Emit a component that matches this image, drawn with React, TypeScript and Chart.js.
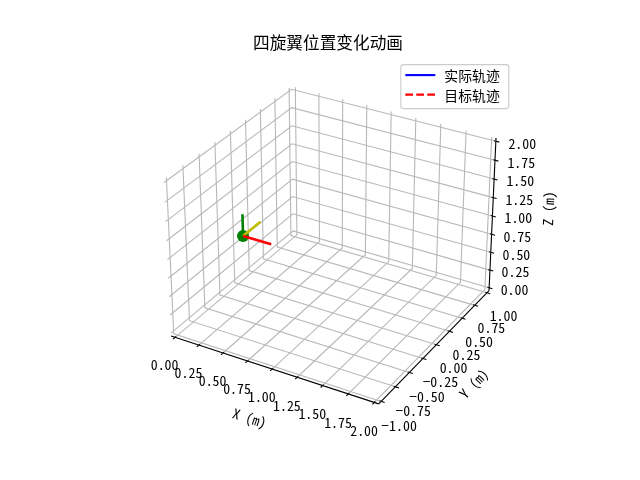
import React, { useEffect, useRef } from "react";
import { Chart, registerables } from "chart.js";

Chart.register(...registerables);

// ---------------- data ----------------
const TITLE = "四旋翼位置变化动画";
const X_LIMITS = [0, 2];
const Y_LIMITS = [-1, 1];
const Z_LIMITS = [0, 2];
const X_TICKS = [0, 0.25, 0.5, 0.75, 1, 1.25, 1.5, 1.75, 2];
const Y_TICKS = [-1, -0.75, -0.5, -0.25, 0, 0.25, 0.5, 0.75, 1];
const Z_TICKS = [0, 0.25, 0.5, 0.75, 1, 1.25, 1.5, 1.75, 2];
const X_TICK_LABELS = ["0.00", "0.25", "0.50", "0.75", "1.00", "1.25", "1.50", "1.75", "2.00"];
const Y_TICK_LABELS = ["\u22121.00", "\u22120.75", "\u22120.50", "\u22120.25", "0.00", "0.25", "0.50", "0.75", "1.00"];
const Z_TICK_LABELS = ["0.00", "0.25", "0.50", "0.75", "1.00", "1.25", "1.50", "1.75", "2.00"];
const AXIS_TITLES = ["X (m)", "Y (m)", "Z (m)"];
const SERIES_NAMES = ["实际轨迹", "目标轨迹"];
// trajectories (animation first frame: nothing drawn yet)
const ACTUAL_X: number[] = [];
const ACTUAL_Y: number[] = [];
const ACTUAL_Z: number[] = [];
const TARGET_X: number[] = [];
const TARGET_Y: number[] = [];
const TARGET_Z: number[] = [];
// quadrotor body
const DRONE_POSITION = [0.02, 0.065, 0.6];
const ARM_LENGTH = 0.3;
const VIEW_ELEV = 30;
const VIEW_AZIM = -60;

// ---------------- 3D projection (matplotlib mplot3d style) ----------------
const DPI = 100;
const FS = (10 * DPI) / 72;
const CAM_DIST = 10;
const LIMS = [X_LIMITS, Y_LIMITS, Z_LIMITS];
const TICKS = [X_TICKS, Y_TICKS, Z_TICKS];
const TICK_LABELS = [X_TICK_LABELS, Y_TICK_LABELS, Z_TICK_LABELS];
const BOX_RATIO = [4, 4, 3];
const boxNorm = Math.hypot(BOX_RATIO[0], BOX_RATIO[1], BOX_RATIO[2]);
const BOX = BOX_RATIO.map((v) => (v * 1.8294640721620434) / boxNorm);
const RC = BOX.map((v) => v / 2);
const elR = (VIEW_ELEV * Math.PI) / 180;
const azR = (VIEW_AZIM * Math.PI) / 180;
const W = [Math.cos(elR) * Math.cos(azR), Math.cos(elR) * Math.sin(azR), Math.sin(elR)];
const cross = (a: number[], b: number[]) => [
  a[1] * b[2] - a[2] * b[1],
  a[2] * b[0] - a[0] * b[2],
  a[0] * b[1] - a[1] * b[0],
];
const dot = (a: number[], b: number[]) => a[0] * b[0] + a[1] * b[1] + a[2] * b[2];
const U0 = cross([0, 0, 1], W);
const un = Math.hypot(U0[0], U0[1], U0[2]);
const U = U0.map((v) => v / un);
const V = cross(W, U);

function project(p: number[]) {
  const d = [0, 1, 2].map(
    (i) => ((p[i] - LIMS[i][0]) / (LIMS[i][1] - LIMS[i][0])) * BOX[i] - RC[i]
  );
  const den = CAM_DIST - dot(W, d);
  return { x: dot(U, d) / den, y: dot(V, d) / den };
}

const DELTAS = LIMS.map((l) => (l[1] - l[0]) / 12);
const MINS = LIMS.map((l, i) => l[0] - DELTAS[i] / 4);
const MAXS = LIMS.map((l, i) => l[1] + DELTAS[i] / 4);
const CENTERS = MINS.map((m, i) => (m + MAXS[i]) / 2);
const HIGHS = [0, 1, 2].map((i) => W[i] < 0);
const MINMAX = [0, 1, 2].map((i) => (HIGHS[i] ? MAXS[i] : MINS[i]));
const MAXMIN = [0, 1, 2].map((i) => (HIGHS[i] ? MINS[i] : MAXS[i]));
const JUGGLED = [
  [1, 0, 2],
  [0, 1, 2],
  [0, 2, 1],
];
const TICKDIR = [1, 0, 0];
const GRID_COLOR = "#b8b8b8";
const LW = (0.8 * DPI) / 72;
const MONO_FONT = `"Noto Sans Mono CJK SC", "Noto Sans CJK SC", sans-serif`;
const CJK_FONT = `"Noto Sans CJK SC", sans-serif`;

function moveFromCenter(c: number[], deltas: number[], skip: number) {
  return c.map((v, k) => (k === skip ? v : v + (v - CENTERS[k] >= 0 ? 1 : -1) * deltas[k]));
}

// figure / axes geometry (default subplot params, square 3D axes)
const FIG_W = 640;
const FIG_H = 480;
const axW = (0.9 - 0.125) * FIG_W;
const axH = (0.88 - 0.11) * FIG_H;
const side = Math.min(axW, axH);
const axCx = ((0.125 + 0.9) / 2) * FIG_W;
const axCy = FIG_H - ((0.11 + 0.88) / 2) * FIG_H;
const PAD = {
  left: axCx - side / 2,
  right: FIG_W - (axCx + side / 2),
  top: axCy - side / 2,
  bottom: FIG_H - (axCy + side / 2),
};

const zip3 = (a: number[], b: number[], c: number[]) => a.map((v, i) => project([v, b[i], c[i]]));
const armEnd = (axis: number) =>
  DRONE_POSITION.map((v, k) => (k === axis ? v + ARM_LENGTH : v));

const frame3d = {
  id: "frame3d",
  beforeDraw(chart: any) {
    const { ctx, width, height } = chart;
    ctx.save();
    ctx.fillStyle = "#ffffff";
    ctx.fillRect(0, 0, width, height);
    ctx.restore();
  },
  beforeDatasetsDraw(chart: any) {
    const ctx: CanvasRenderingContext2D = chart.ctx;
    const sx = chart.scales.x;
    const sy = chart.scales.y;
    const ca = chart.chartArea;
    const px = (p: number[]) => {
      const q = project(p);
      return [sx.getPixelForValue(q.x), sy.getPixelForValue(q.y)];
    };
    const ptsEst = (72 * (ca.right - ca.left + (ca.bottom - ca.top))) / DPI;
    const dpp = 48 / ptsEst;
    ctx.save();
    // axes
    for (let i = 0; i < 3; i++) {
      const j = JUGGLED[i];
      const e1 = MINMAX.slice();
      e1[j[0]] = MAXMIN[j[0]];
      const e2 = e1.slice();
      e2[j[1]] = MAXMIN[j[1]];
      const p1 = px(e1);
      const p2 = px(e2);
      // axis line
      ctx.strokeStyle = "#000000";
      ctx.lineWidth = LW;
      ctx.beginPath();
      ctx.moveTo(p1[0], p1[1]);
      ctx.lineTo(p2[0], p2[1]);
      ctx.stroke();
      // grid
      ctx.strokeStyle = GRID_COLOR;
      ctx.lineWidth = LW;
      for (const t of TICKS[i]) {
        const g1 = MINMAX.slice();
        g1[i] = t;
        const g0 = g1.slice();
        g0[(i + 1) % 3] = MAXMIN[(i + 1) % 3];
        const g2 = g1.slice();
        g2[(i + 2) % 3] = MAXMIN[(i + 2) % 3];
        const a = px(g0), b = px(g1), c = px(g2);
        ctx.beginPath();
        ctx.moveTo(a[0], a[1]);
        ctx.lineTo(b[0], b[1]);
        ctx.lineTo(c[0], c[1]);
        ctx.stroke();
      }
      // ticks + tick labels
      const td = TICKDIR[i];
      const tdelta = HIGHS[td] ? DELTAS[td] : -DELTAS[td];
      const outV = e1[td] + 0.1 * tdelta;
      const inV = e1[td] - 0.2 * tdelta;
      const lblD = DELTAS.map((d) => (3.5 + 8) * dpp * d);
      ctx.font = `${FS}px ${MONO_FONT}`;
      ctx.textAlign = "center";
      ctx.textBaseline = "alphabetic";
      TICKS[i].forEach((t, k) => {
        const pos = e1.slice();
        pos[i] = t;
        pos[td] = outV;
        const a = px(pos);
        pos[td] = inV;
        const b = px(pos);
        ctx.strokeStyle = "#000000";
        ctx.lineWidth = LW;
        ctx.beginPath();
        ctx.moveTo(a[0], a[1]);
        ctx.lineTo(b[0], b[1]);
        ctx.stroke();
        pos[td] = e1[td];
        const lp = px(moveFromCenter(pos, lblD, i));
        ctx.fillStyle = "#000000";
        ctx.fillText(TICK_LABELS[i][k], lp[0], lp[1] + 0.78 * FS);
      });
      // axis title
      const mid = e1.map((v, k) => (v + e2[k]) / 2);
      const tD = DELTAS.map((d) => (4 + 21) * dpp * d);
      const tp = px(moveFromCenter(mid, tD, i));
      let ang = (Math.atan2(-(p2[1] - p1[1]), p2[0] - p1[0]) * 180) / Math.PI;
      ang = (((ang + 180) % 180) + 180) % 180;
      if (ang > 90) ang -= 180;
      ctx.save();
      ctx.translate(tp[0], tp[1]);
      ctx.rotate((-ang * Math.PI) / 180);
      ctx.textAlign = "center";
      ctx.textBaseline = "middle";
      ctx.fillStyle = "#000000";
      ctx.font = `${FS}px ${MONO_FONT}`;
      ctx.fillText(AXIS_TITLES[i], 0, 0);
      ctx.restore();
    }
    ctx.restore();
  },
  afterDraw(chart: any) {
    const ctx: CanvasRenderingContext2D = chart.ctx;
    const ca = chart.chartArea;
    ctx.save();
    // title
    ctx.font = `${(12 * DPI) / 72}px ${CJK_FONT}`;
    ctx.fillStyle = "#000000";
    ctx.textAlign = "center";
    ctx.textBaseline = "alphabetic";
    ctx.fillText(TITLE, (ca.left + ca.right) / 2, ca.top - (6 * DPI) / 72);
    // legend
    const items = chart.data.datasets.filter((d: any) => SERIES_NAMES.includes(d.label));
    const right = ca.right - 4;
    const left = right - 108;
    const top = ca.top + 7;
    const bottom = top + 44;
    const r = 0.2 * FS;
    ctx.beginPath();
    ctx.moveTo(left + r, top);
    ctx.lineTo(right - r, top);
    ctx.quadraticCurveTo(right, top, right, top + r);
    ctx.lineTo(right, bottom - r);
    ctx.quadraticCurveTo(right, bottom, right - r, bottom);
    ctx.lineTo(left + r, bottom);
    ctx.quadraticCurveTo(left, bottom, left, bottom - r);
    ctx.lineTo(left, top + r);
    ctx.quadraticCurveTo(left, top, left + r, top);
    ctx.closePath();
    ctx.fillStyle = "rgba(255,255,255,0.8)";
    ctx.fill();
    ctx.strokeStyle = "#cccccc";
    ctx.lineWidth = LW;
    ctx.stroke();
    items.forEach((d: any, k: number) => {
      const y = top + 10.5 + k * 19.5;
      ctx.strokeStyle = d.borderColor;
      ctx.lineWidth = d.borderWidth;
      ctx.setLineDash(d.borderDash || []);
      ctx.beginPath();
      ctx.moveTo(left + 4.5, y);
      ctx.lineTo(left + 34.5, y);
      ctx.stroke();
      ctx.setLineDash([]);
      ctx.font = `${FS}px ${CJK_FONT}`;
      ctx.fillStyle = "#000000";
      ctx.textAlign = "left";
      ctx.textBaseline = "middle";
      ctx.fillText(d.label, left + 43.5, y + 1);
    });
    ctx.restore();
  },
};

export default function App() {
  const ref = useRef<HTMLCanvasElement>(null);
  useEffect(() => {
    if (!ref.current) return;
    const center = project(DRONE_POSITION);
    const chart = new Chart(ref.current, {
      type: "scatter",
      data: {
        datasets: [
          {
            label: SERIES_NAMES[0],
            data: zip3(ACTUAL_X, ACTUAL_Y, ACTUAL_Z),
            borderColor: "#0000ff",
            backgroundColor: "#0000ff",
            borderWidth: (1.5 * DPI) / 72,
            showLine: true,
            pointRadius: 0,
            order: 6,
          },
          {
            label: SERIES_NAMES[1],
            data: zip3(TARGET_X, TARGET_Y, TARGET_Z),
            borderColor: "#ff0000",
            backgroundColor: "#ff0000",
            borderWidth: (1.5 * DPI) / 72,
            borderDash: [7.7, 3.3],
            showLine: true,
            pointRadius: 0,
            order: 5,
          },
          {
            label: "body",
            data: [center],
            pointRadius: 6,
            pointBorderWidth: 0,
            backgroundColor: "#008000",
            borderColor: "#008000",
            showLine: false,
            order: 4,
          },
          {
            label: "arm-z",
            data: [center, project(armEnd(2))],
            borderColor: "#008000",
            borderWidth: 2.6,
            showLine: true,
            pointRadius: 0,
            order: 3,
          },
          {
            label: "arm-y",
            data: [center, project(armEnd(1))],
            borderColor: "#bfbf00",
            borderWidth: 2.6,
            showLine: true,
            pointRadius: 0,
            order: 2,
          },
          {
            label: "arm-x",
            data: [center, project(armEnd(0))],
            borderColor: "#ff0000",
            borderWidth: 2.6,
            showLine: true,
            pointRadius: 0,
            order: 1,
          },
        ],
      },
      options: {
        animation: false,
        responsive: false,
        devicePixelRatio: 1,
        events: [],
        layout: { padding: PAD },
        plugins: { legend: { display: false }, title: { display: false }, tooltip: { enabled: false } },
        scales: {
          x: { type: "linear", min: -0.95 / CAM_DIST, max: 0.9 / CAM_DIST, display: false },
          y: { type: "linear", min: -0.95 / CAM_DIST, max: 0.9 / CAM_DIST, display: false },
        },
        elements: { line: { tension: 0 } },
        datasets: { scatter: { clip: false } as any },
      } as any,
      plugins: [frame3d],
    });
    return () => chart.destroy();
  }, []);
  return (
    <div style={{ position: "absolute", left: 0, top: 0, width: FIG_W, height: FIG_H }}>
      <canvas ref={ref} width={FIG_W} height={FIG_H} style={{ width: FIG_W, height: FIG_H }} />
    </div>
  );
}
